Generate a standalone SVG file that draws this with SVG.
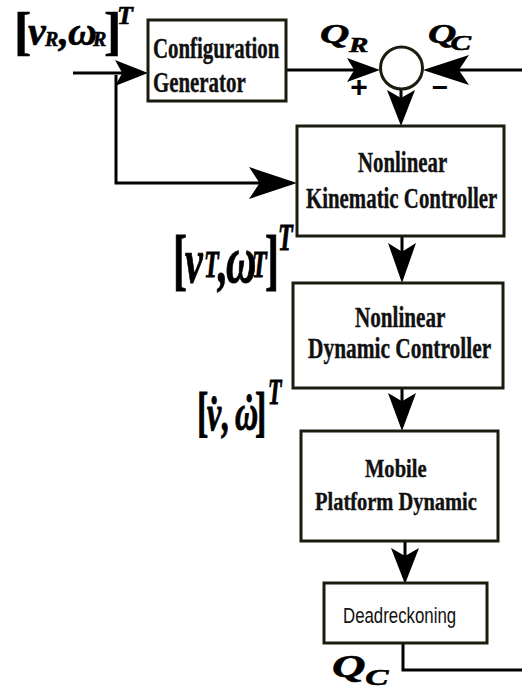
<svg xmlns="http://www.w3.org/2000/svg" xmlns:xlink="http://www.w3.org/1999/xlink" width="522" height="693" viewBox="0 0 522 693">
<style>
.box{fill:#fff;stroke:#1b1b0e;stroke-width:3}
.ln{fill:none;stroke:#000;stroke-width:3}
.ah{fill:#000}
.t{font-family:"Liberation Serif","Times New Roman",serif;font-weight:bold;fill:#111;stroke:#111;stroke-width:0.4}
.t30{font-size:30px}
.t29{font-size:29px}
.t26{font-size:26px}
.s{font-family:"Liberation Sans",Arial,sans-serif;font-size:22px;fill:#111}
.m{font-family:"Liberation Serif","Times New Roman",serif;font-weight:bold;font-style:italic;fill:#000;stroke:#000;stroke-width:0.6}
.b{font-family:"Liberation Serif","Times New Roman",serif;font-weight:bold;fill:#000}
.sg{font-family:"Liberation Sans",Arial,sans-serif;font-weight:bold;fill:#000}
</style>
<defs>
<path id="arr" d="M0,0 L-1,-1 L-0.78,0 L-1,1 Z"/>
</defs>
<rect width="522" height="693" fill="#fff"/>

<g id="connectors">
<path class="ln" d="M73,73 H135"/>
<path class="ln" d="M116,75 V183 H275"/>
<path class="ln" d="M287,70 H360"/>
<path class="ln" d="M522,70 H440"/>
<path class="ln" d="M401,89 V105"/>
<path class="ln" d="M402,236 V260"/>
<path class="ln" d="M402,388 V410"/>
<path class="ln" d="M405,541 V560"/>
<path class="ln" d="M403,643 V670 H522"/>
<use xlink:href="#arr" class="ah" transform="translate(148,73) scale(33,13)"/>
<use xlink:href="#arr" class="ah" transform="translate(297,183) scale(48,16)"/>
<use xlink:href="#arr" class="ah" transform="translate(380,70) scale(33,12)"/>
<use xlink:href="#arr" class="ah" transform="translate(423,70) rotate(180) scale(46,15)"/>
<use xlink:href="#arr" class="ah" transform="translate(401,126) rotate(90) scale(36,14)"/>
<use xlink:href="#arr" class="ah" transform="translate(402,283) rotate(90) scale(40,14)"/>
<use xlink:href="#arr" class="ah" transform="translate(402,431) rotate(90) scale(38,14)"/>
<use xlink:href="#arr" class="ah" transform="translate(405,584) rotate(90) scale(36,14)"/>
</g>

<g id="config">
<rect class="box" x="148" y="20" width="138" height="81"/>
<text class="t t29" transform="translate(153,58) scale(0.72,1)">Configuration</text>
<text class="t t29" transform="translate(153,92) scale(0.72,1)">Generator</text>
</g>

<g id="sum">
<circle cx="401.5" cy="68" r="21" fill="#fff" stroke="#1b1b0e" stroke-width="3"/>
<text class="sg" x="359" y="97" font-size="30" text-anchor="middle">+</text>
<text class="sg" x="440" y="97" font-size="28" text-anchor="middle">−</text>
</g>

<g id="kinematic">
<rect class="box" x="297" y="126" width="207" height="110"/>
<text class="t t30" transform="translate(358,172) scale(0.695,1)">Nonlinear</text>
<text class="t t30" transform="translate(306,208) scale(0.695,1)">Kinematic Controller</text>
</g>

<g id="dynamic">
<rect class="box" x="293" y="283" width="210" height="105"/>
<text class="t t30" transform="translate(355,327) scale(0.705,1)">Nonlinear</text>
<text class="t t30" transform="translate(308,358) scale(0.713,1)">Dynamic Controller</text>
</g>

<g id="mobile">
<rect class="box" x="301" y="431" width="197" height="110"/>
<text class="t t26" transform="translate(365,477) scale(0.79,1)">Mobile</text>
<text class="t t26" transform="translate(315,510) scale(0.787,1)">Platform Dynamic</text>
</g>

<g id="deadreckoning">
<rect class="box" x="324" y="583" width="163" height="60"/>
<text class="s" transform="translate(343,623) scale(0.765,1)">Deadreckoning</text>
</g>

<g id="labels">
<text class="m" font-size="40">
<tspan class="b" x="14" y="49" font-size="52" font-style="normal">[</tspan><tspan x="28" y="45">v</tspan><tspan x="45" y="46" font-size="20">R</tspan><tspan x="59" y="45">,</tspan><tspan x="68" y="45">ω</tspan><tspan x="93" y="46" font-size="20">R</tspan><tspan class="b" x="104" y="49" font-size="52" font-style="normal">]</tspan><tspan x="117" y="24" font-size="26">T</tspan>
</text>
<text class="m" font-size="40" transform="translate(173,282) scale(1,1.6)">
<tspan class="b" x="0" y="0" font-size="42" font-style="normal">[</tspan><tspan x="12" y="0">v</tspan><tspan x="31" y="-3" font-size="24">T</tspan><tspan x="45" y="0">,</tspan><tspan x="53" y="0" font-size="42">ω</tspan><tspan x="79" y="-3" font-size="24">T</tspan><tspan class="b" x="92" y="0" font-size="42" font-style="normal">]</tspan><tspan x="105" y="-20" font-size="24">T</tspan>
</text>
<text class="m" font-size="32" transform="translate(197,430) scale(1,1.6)">
<tspan class="b" x="0" y="0" font-size="34" font-style="normal">[</tspan><tspan x="10" y="0">v̇</tspan><tspan x="25" y="0">,</tspan><tspan x="38" y="0">ω</tspan><tspan x="45" y="0">˙</tspan><tspan class="b" x="58" y="0" font-size="34" font-style="normal">]</tspan><tspan x="71" y="-16" font-size="22">T</tspan>
</text>
<text class="m" font-size="28" transform="translate(320,43) scale(1.45,1)">
<tspan x="0" y="0">Q</tspan><tspan x="20" y="9" font-size="20">R</tspan>
</text>
<text class="m" font-size="28" transform="translate(428,43) scale(1.4,1)">
<tspan x="0" y="0">Q</tspan><tspan x="16" y="7" font-size="22">C</tspan>
</text>
<text class="m" font-size="32" transform="translate(332,677) scale(1.45,1)">
<tspan x="0" y="0">Q</tspan><tspan x="23" y="8" font-size="24">C</tspan>
</text>
</g>
</svg>
